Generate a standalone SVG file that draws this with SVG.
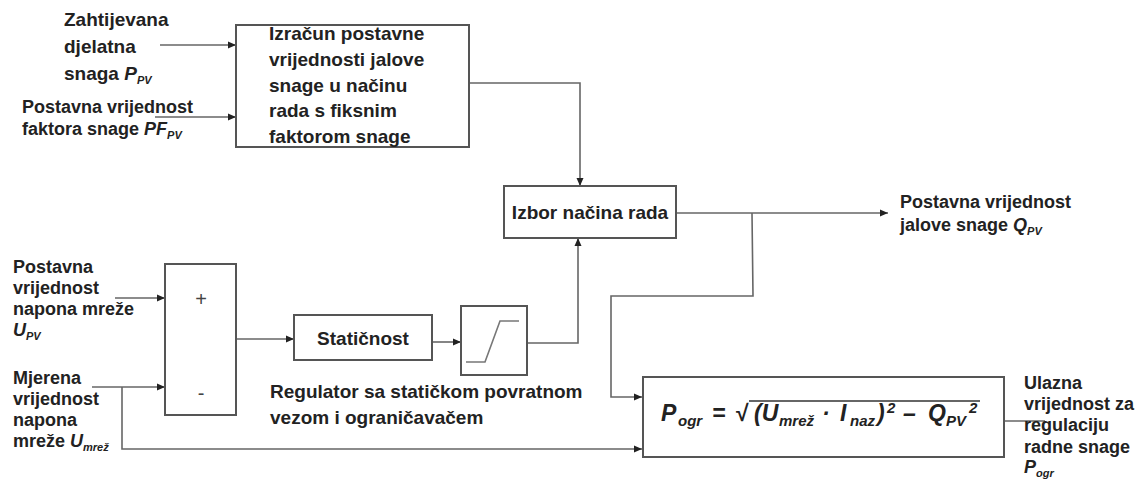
<svg xmlns="http://www.w3.org/2000/svg" width="1144" height="479" viewBox="0 0 1144 479">
<defs>
<marker id="arr" markerWidth="8" markerHeight="8" refX="8" refY="4" orient="auto" markerUnits="userSpaceOnUse">
<path d="M0,0.5 L8,4 L0,7.5 z" fill="#222"/>
</marker>
<style>
.box{fill:#fff;stroke:#555;stroke-width:2}
.ln{fill:none;stroke:#666;stroke-width:1.6}
.t{font-family:"Liberation Sans",Arial,sans-serif;font-weight:bold;font-size:18px;fill:#222}
.tb{font-family:"Liberation Sans",Arial,sans-serif;font-weight:bold;font-size:19px;fill:#222}
.sub{font-size:11px;font-style:italic}
.it{font-style:italic}
.f{font-family:"Liberation Sans",Arial,sans-serif;font-weight:bold;font-style:italic;font-size:23px;fill:#222}
.fs{font-size:15px}
</style>
</defs>
<rect width="1144" height="479" fill="#fff"/>
<g id="connectors">
<path class="ln" d="M160,45 H236" marker-end="url(#arr)"/>
<path class="ln" d="M155,117 H236" marker-end="url(#arr)"/>
<path class="ln" d="M469,83 H580 V186" marker-end="url(#arr)"/>
<path class="ln" d="M676,213 H888" marker-end="url(#arr)"/>
<path class="ln" d="M752,213 L753,296 H611 V397 H642" marker-end="url(#arr)"/>
<path class="ln" d="M115,298 H165" marker-end="url(#arr)"/>
<path class="ln" d="M92,387 H165" marker-end="url(#arr)"/>
<path class="ln" d="M122,387 V449 H642" marker-end="url(#arr)"/>
<path class="ln" d="M236,339 H294" marker-end="url(#arr)"/>
<path class="ln" d="M432,342 H461" marker-end="url(#arr)"/>
<path class="ln" d="M527,343 H578 V238" marker-end="url(#arr)"/>
<path class="ln" d="M1004,421 H1045"/>
</g>
<g id="in-p">
<text class="tb" x="64" y="26">Zahtijevana</text>
<text class="tb" x="64" y="53">djelatna</text>
<text class="tb" x="64" y="80">snaga <tspan class="it">P</tspan><tspan class="sub" dy="4">PV</tspan></text>
</g>
<g id="in-pf">
<text class="t" x="22" y="113">Postavna vrijednost</text>
<text class="t" x="22" y="135">faktora snage <tspan class="it">PF</tspan><tspan class="sub" dy="4">PV</tspan></text>
</g>
<g id="calc">
<rect class="box" x="236" y="25" width="233" height="122"/>
<text class="tb" x="269" y="40">Izračun postavne</text>
<text class="tb" x="269" y="66">vrijednosti jalove</text>
<text class="tb" x="269" y="92">snage u načinu</text>
<text class="tb" x="269" y="117">rada s fiksnim</text>
<text class="tb" x="269" y="143">faktorom snage</text>
</g>
<g id="izbor">
<rect class="box" x="504" y="186" width="172" height="52"/>
<text class="tb" x="590" y="219" text-anchor="middle">Izbor načina rada</text>
</g>
<g id="out-q">
<text class="t" x="900" y="208">Postavna vrijednost</text>
<text class="t" x="900" y="231">jalove snage <tspan class="it">Q</tspan><tspan class="sub" dy="4">PV</tspan></text>
</g>
<g id="in-upv">
<text class="t" x="13" y="273">Postavna</text>
<text class="t" x="13" y="294">vrijednost</text>
<text class="t" x="13" y="315">napona mreže</text>
<text class="t" x="13" y="336"><tspan class="it">U</tspan><tspan class="sub" dy="4">PV</tspan></text>
</g>
<g id="in-umr">
<text class="t" x="13" y="384">Mjerena</text>
<text class="t" x="13" y="405">vrijednost</text>
<text class="t" x="13" y="426">napona</text>
<text class="t" x="13" y="447">mreže <tspan class="it">U</tspan><tspan class="sub" dy="4">mrež</tspan></text>
</g>
<g id="sum">
<rect class="box" x="165" y="264" width="71" height="151"/>
<text x="201" y="306" text-anchor="middle" font-family="Liberation Sans,Arial,sans-serif" font-size="20" fill="#444">+</text>
<text x="201" y="400" text-anchor="middle" font-family="Liberation Sans,Arial,sans-serif" font-size="20" fill="#444">-</text>
</g>
<g id="staticnost">
<rect class="box" x="294" y="315" width="138" height="45"/>
<text class="tb" x="363" y="345" text-anchor="middle">Statičnost</text>
</g>
<g id="limiter">
<rect class="box" x="461" y="306" width="66" height="69"/>
<path d="M466,362 H485 L500,321 H519" fill="none" stroke="#777" stroke-width="1.6"/>
</g>
<g id="reg-label">
<text class="tb" x="270" y="398">Regulator sa statičkom povratnom</text>
<text class="tb" x="270" y="424">vezom i ograničavačem</text>
</g>
<g id="pogr">
<rect class="box" x="643" y="377" width="361" height="80"/>
<text class="f" y="421"><tspan x="661">P</tspan><tspan class="fs" x="678" y="426">ogr</tspan><tspan x="712" y="421">=</tspan><tspan x="736" font-style="normal">√</tspan><tspan x="754">(U</tspan><tspan class="fs" x="779" y="426">mrež</tspan><tspan x="822" y="421">·</tspan><tspan x="840">I</tspan><tspan class="fs" x="850" y="426">naz</tspan><tspan x="877" y="421">)</tspan><tspan class="fs" x="887" y="413">2</tspan><tspan x="903" y="421">–</tspan><tspan x="928">Q</tspan><tspan class="fs" x="946" y="426">PV</tspan><tspan class="fs" x="969" y="413">2</tspan></text>
<path d="M749,401 H980" stroke="#333" stroke-width="1.6"/>
</g>
<g id="out-p">
<text class="t" x="1024" y="389">Ulazna</text>
<text class="t" x="1024" y="410">vrijednost za</text>
<text class="t" x="1024" y="431">regulaciju</text>
<text class="t" x="1024" y="453">radne snage</text>
<text class="t" x="1024" y="473"><tspan class="it">P</tspan><tspan class="sub" dy="4">ogr</tspan></text>
</g>
</svg>
